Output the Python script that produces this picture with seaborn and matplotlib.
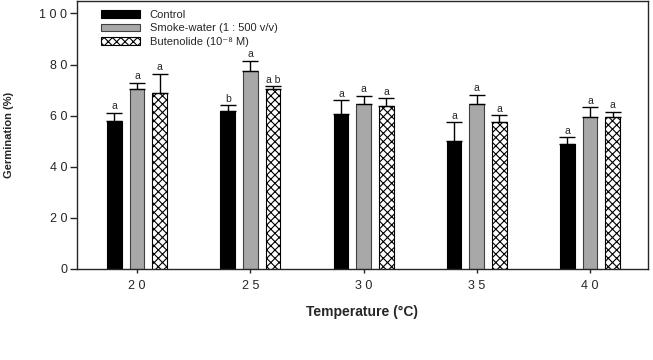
import numpy as np
import pandas as pd
import matplotlib
matplotlib.use("Agg")
import matplotlib.pyplot as plt
import matplotlib as mpl
from matplotlib.patches import Patch
import seaborn as sns

sns.set_style("ticks")
plt.rcParams['font.family'] = ['Liberation Sans', 'DejaVu Sans']
plt.rcParams['hatch.linewidth'] = 0.8
mpl.rc("figure", facecolor="white")

temps = ['20', '25', '30', '35', '40']
treatments = ['Control', 'Smoke-water (1 : 500 v/v)', 'Butenolide (10⁻⁸ M)']

control = [57.9, 62.0, 60.5, 50.0, 48.9]
smoke = [70.4, 77.5, 64.5, 64.5, 59.5]
butenolide = [69.0, 70.4, 63.9, 57.5, 59.5]

control_err = [3.2, 2.1, 5.6, 7.5, 2.7]
smoke_err = [2.4, 3.9, 3.3, 3.7, 3.7]
butenolide_err = [7.4, 1.1, 2.9, 2.7, 2.0]

control_letters = ['a', 'b', 'a', 'a', 'a']
smoke_letters = ['a', 'a', 'a', 'a', 'a']
butenolide_letters = ['a', 'a b', 'a', 'a', 'a']

means = [control, smoke, butenolide]
errs = [control_err, smoke_err, butenolide_err]
letters = [control_letters, smoke_letters, butenolide_letters]

rows = []
for t, vals in zip(treatments, means):
    for temp, v in zip(temps, vals):
        rows.append({'Temperature': temp, 'Germination': v, 'Treatment': t})
df = pd.DataFrame(rows)

facecols = ['black', '#a8a8a8', 'white']
edgecols = ['black', '#404040', 'black']
hatches = [None, None, 'xxxx']

fig = plt.figure(figsize=(6.53, 3.6), dpi=100)
ax = fig.add_axes([0.118, 0.253, 0.874, 0.745])

bar = sns.barplot(data=df, x='Temperature', y='Germination', hue='Treatment',
                  hue_order=treatments, order=temps, palette=facecols,
                  width=0.6, gap=0.35, errorbar=None, legend=False, ax=ax,
                  saturation=1)

bar_containers = list(ax.containers)
for i, cont in enumerate(bar_containers):
    for j, patch in enumerate(cont.patches):
        patch.set_edgecolor(edgecols[i])
        patch.set_linewidth(0.8)
        if hatches[i]:
            patch.set_hatch(hatches[i])
        xc = patch.get_x() + patch.get_width() / 2
        h = patch.get_height()
        ax.errorbar(xc, h, yerr=[[0], [errs[i][j]]], fmt='none', ecolor='black',
                    elinewidth=1.0, capsize=5.5, capthick=1.0)
        ax.text(xc, h + errs[i][j] + 0.6, letters[i][j], ha='center', va='bottom',
                fontsize=7.5)

ax.set_xlim(-0.53, 4.51)
ax.set_ylim(0, 105)
ax.set_yticks([0, 20, 40, 60, 80, 100])
ax.set_yticklabels(['0', '2 0', '4 0', '6 0', '8 0', '1 0 0'])
ax.set_xticks(range(5))
ax.set_xticklabels(['2 0', '2 5', '3 0', '3 5', '4 0'])
ax.tick_params(axis='both', labelsize=9, width=1, direction='out')
ax.tick_params(axis='y', length=5, pad=2)
ax.tick_params(axis='x', length=3, pad=5)
for s in ax.spines.values():
    s.set_linewidth(1.0)

ax.set_xlabel('Temperature (°C)', fontsize=10, fontweight='bold', labelpad=9)
ax.set_ylabel('Germination (%)', fontsize=8, fontweight='bold', labelpad=18)

handles = [Patch(facecolor=facecols[k], edgecolor=edgecols[k], hatch=hatches[k],
                 linewidth=0.8) for k in range(3)]
ax.legend(handles, treatments, loc='upper left', bbox_to_anchor=(0.03, 0.99),
          frameon=False, fontsize=8, handlelength=3.5, handleheight=0.65,
          labelspacing=0.3, handletextpad=0.9, borderaxespad=0.2)

plt.savefig('out.png', dpi=100)
